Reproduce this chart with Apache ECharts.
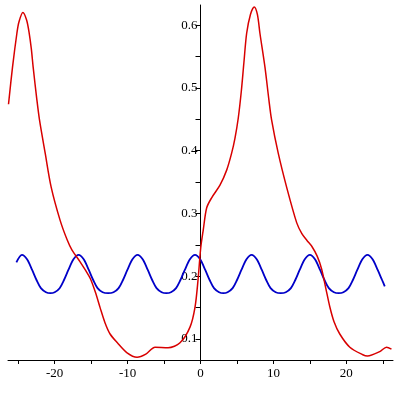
<!DOCTYPE html>
<html>
<head>
<meta charset="utf-8">
<script src="https://cdn.jsdelivr.net/npm/echarts@6/dist/echarts.min.js"></script>
<style>html,body{margin:0;padding:0;background:#fff}#c{width:400px;height:400px}</style>
</head>
<body>
<div id="c"></div>
<script>
// Red curve points [x, y]
var redX = [-26.33,-25.78,-25.18,-24.9,-24.36,-23.85,-23.49,-23.2,-22.95,-22.44,-22.08,-21.3,-20.48,-19.25,-18.29,-17.64,-16.51,-15.8,-15.1,-14.4,-13.77,-13.1,-12.4,-11.4,-10.07,-8.7,-7.5,-6.23,-4.45,-2.81,-1.44,-0.75,-0.34,0.03,0.38,0.85,1.53,2.67,3.59,4.27,4.73,5.18,5.6,5.95,6.33,6.85,7.37,7.8,8.15,8.84,9.38,9.75,10.66,11.81,13.2,13.9,14.6,15.3,16.0,16.6,17.2,17.74,18.3,19.1,20.48,22.26,22.9,24.59,25.51,26.19];
var redY = [0.474,0.533,0.587,0.605,0.620,0.608,0.587,0.562,0.533,0.481,0.449,0.396,0.342,0.289,0.258,0.242,0.223,0.210,0.196,0.174,0.150,0.126,0.108,0.094,0.078,0.071,0.076,0.087,0.086,0.094,0.119,0.151,0.194,0.245,0.274,0.309,0.325,0.345,0.369,0.396,0.420,0.452,0.495,0.540,0.587,0.617,0.629,0.617,0.587,0.533,0.481,0.449,0.396,0.342,0.285,0.268,0.257,0.247,0.232,0.212,0.180,0.151,0.128,0.108,0.087,0.075,0.073,0.080,0.087,0.084];
// Blue curve points [x, y]
var blueX = [-25.25,-24.49,-23.79,-23.09,-22.49,-21.89,-21.19,-20.6,-20.0,-19.32,-18.72,-18.12,-17.42,-16.72,
  -16.02,-15.32,-14.72,-14.12,-13.42,-12.68,-11.93,-11.23,-10.63,-10.03,-9.33,-8.63,
  -7.93,-7.23,-6.63,-6.03,-5.33,-4.69,-4.05,-3.35,-2.75,-2.15,-1.45,-0.75,
  -0.05,0.65,1.25,1.85,2.55,3.13,3.71,4.41,5.01,5.61,6.31,7.01,
  7.71,8.41,9.01,9.61,10.31,11.0,11.7,12.4,13.0,13.6,14.3,15.0,
  15.7,16.4,17.0,17.6,18.3,18.95,19.6,20.3,20.9,21.5,22.2,22.9,
  23.6,24.3,24.9,25.27];
var blueY = [0.222,0.234,0.227,0.210,0.194,0.181,0.1745,0.173,0.1745,0.181,0.194,0.210,0.227,0.234,
  0.227,0.210,0.194,0.181,0.1745,0.173,0.1745,0.181,0.194,0.210,0.227,0.234,
  0.227,0.210,0.194,0.181,0.1745,0.173,0.1745,0.181,0.194,0.210,0.227,0.234,
  0.227,0.210,0.194,0.181,0.1745,0.173,0.1745,0.181,0.194,0.210,0.227,0.234,
  0.227,0.210,0.194,0.181,0.1745,0.173,0.1745,0.181,0.194,0.210,0.227,0.234,
  0.227,0.210,0.194,0.181,0.1745,0.173,0.1745,0.181,0.194,0.210,0.227,0.234,
  0.227,0.210,0.194,0.184];
// Tick values
var xLabels = [-20,-10,0,10,20];
var xTicks = [-25,-20,-15,-10,-5,0,5,10,15,20,25];
var yLabels = [0.1,0.2,0.3,0.4,0.5,0.6];
var yTicks = [0.1,0.15,0.2,0.25,0.3,0.35,0.4,0.45,0.5,0.55,0.6];

function zip(a,b){return a.map(function(v,i){return [v,b[i]];});}

var chart = echarts.init(document.getElementById('c'), null, {renderer:'canvas'});
var font = {fontFamily:'Liberation Serif', fontSize:13, color:'#000'};
var gridLeft = 8, gridRight = 7, xMin = -26.4, xMax = 26.4;
var zeroOffset = (400 - gridLeft - gridRight) * (0 - xMin) / (xMax - xMin);
chart.setOption({
  animation:false,
  backgroundColor:'#fff',
  grid:{left:gridLeft, right:gridRight, top:5, bottom:40, containLabel:false, outerBoundsMode:'none'},
  xAxis:{
    type:'value', min:xMin, max:xMax,
    splitLine:{show:false},
    axisLine:{onZero:false, lineStyle:{color:'#000', width:1}},
    axisTick:{show:true, length:4, inside:false, customValues:xTicks, lineStyle:{color:'#000'}},
    axisLabel:Object.assign({customValues:xLabels, margin:7}, font)
  },
  yAxis:{
    type:'value', min:0.0666, max:0.632, position:'left', offset:-zeroOffset,
    splitLine:{show:false},
    axisLine:{onZero:false, lineStyle:{color:'#000', width:1}},
    axisTick:{show:true, length:5, inside:false, customValues:yTicks, lineStyle:{color:'#000'}},
    axisLabel:Object.assign({customValues:yLabels, margin:3, formatter:function(v){return String(Math.round(v*10)/10);}}, font)
  },
  series:[
    {type:'line', data:zip(blueX,blueY), smooth:0.3, showSymbol:false, symbol:'none',
     lineStyle:{color:'#0000c8', width:1.8}, z:2},
    {type:'line', data:zip(redX,redY), smooth:0.3, showSymbol:false, symbol:'none',
     lineStyle:{color:'#d80000', width:1.5}, z:3}
  ]
});
</script>
</body>
</html>
